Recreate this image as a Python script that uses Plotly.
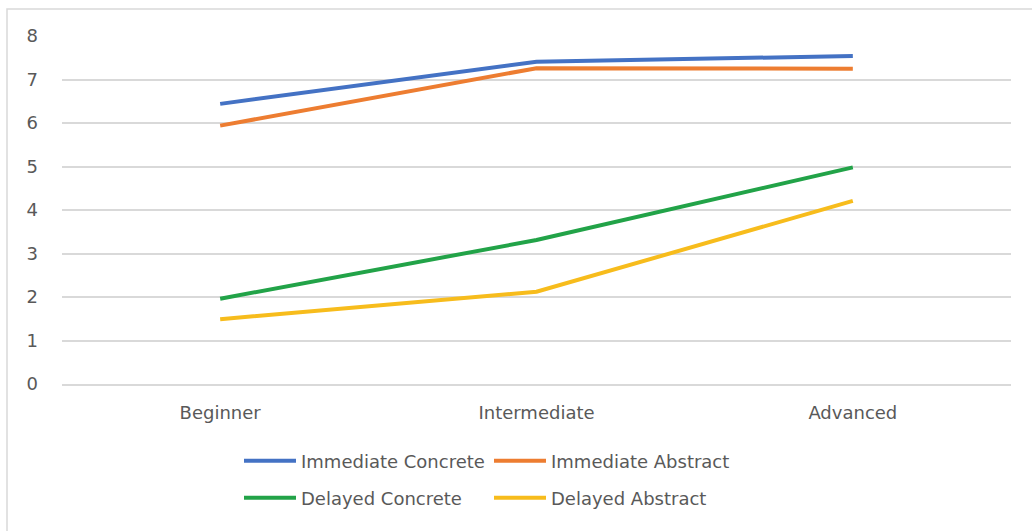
import plotly.graph_objects as go

categories = ["Beginner", "Intermediate", "Advanced"]
immediate_concrete = [6.44, 7.41, 7.54]
immediate_abstract = [5.94, 7.26, 7.25]
delayed_concrete = [1.96, 3.31, 4.98]
delayed_abstract = [1.49, 2.12, 4.21]

series = [
    ("Immediate Concrete", immediate_concrete, "#4472C4", "legend"),
    ("Immediate Abstract", immediate_abstract, "#ED7D31", "legend"),
    ("Delayed Concrete", delayed_concrete, "#22A348", "legend2"),
    ("Delayed Abstract", delayed_abstract, "#F7BC1C", "legend2"),
]

FONT = "DejaVu Sans"
TXT = "#595959"

fig = go.Figure()
for name, vals, color, lg in series:
    fig.add_trace(go.Scatter(x=categories, y=vals, name=name, mode="lines",
                             line=dict(color=color, width=4), legend=lg))

W, H = 1032, 531
ml, mr, mt, mb = 62, 21, 36, 147
pw, ph = W - ml - mr, H - mt - mb

def px_x(x):
    return (x - ml) / pw

def px_y(y):
    return (H - mb - y) / ph

legend_common = dict(orientation="h", xanchor="left", yanchor="middle",
                     font=dict(family=FONT, size=18, color=TXT),
                     entrywidth=183, entrywidthmode="pixels",
                     bgcolor="rgba(0,0,0,0)", itemwidth=52, traceorder="normal")

fig.update_layout(
    width=W, height=H,
    margin=dict(l=ml, r=mr, t=mt, b=mb),
    paper_bgcolor="white", plot_bgcolor="white",
    font=dict(family=FONT, size=17, color=TXT),
    showlegend=True,
    legend=dict(x=px_x(239), y=px_y(461), **legend_common),
    legend2=dict(x=px_x(239), y=px_y(498), **legend_common),
    xaxis=dict(range=[-0.5, 2.5], showgrid=False, showline=True,
               linecolor="#D9D9D9", linewidth=1.5, zeroline=False, ticks="",
               tickfont=dict(family=FONT, size=18, color=TXT),
               ticklabelstandoff=12),
    yaxis=dict(range=[0, 8], dtick=1, showgrid=True, gridcolor="#D9D9D9",
               gridwidth=1.5, zeroline=False, showline=False, ticks="",
               tickfont=dict(family=FONT, size=18, color=TXT),
               ticklabelstandoff=23),
    shapes=[dict(type="rect", xref="paper", yref="paper",
                 x0=px_x(7), x1=px_x(1060), y0=px_y(560), y1=px_y(9),
                 line=dict(color="#D9D9D9", width=1.5), fillcolor="rgba(0,0,0,0)",
                 layer="below")],
)

fig.write_html("out.html")
